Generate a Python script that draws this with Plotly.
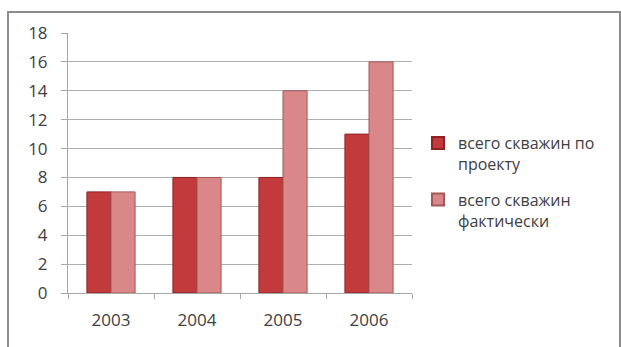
import plotly.graph_objects as go

years = ["2003", "2004", "2005", "2006"]
planned = [7, 8, 8, 11]
actual = [7, 8, 14, 16]
series_names = ["всего скважин по<br>проекту", "всего скважин<br>фактически"]
y_ticks = [0, 2, 4, 6, 8, 10, 12, 14, 16, 18]

fig = go.Figure()
fig.add_trace(go.Bar(
    x=years, y=planned, name=series_names[0], legendgroup="plan",
    marker=dict(color="#C23A3B", line=dict(color="#8E2223", width=1)),
))
fig.add_trace(go.Bar(
    x=years, y=actual, name=series_names[1], legendgroup="fact",
    marker=dict(color="#D98789", line=dict(color="#A4585A", width=1)),
))

W, H = 621, 347
ml, mr, mt, mb = 68, 209, 33, 54
pw, ph = W - ml - mr, H - mt - mb

# outer chart frame (top-left corner visible, the rest runs off the page)
fig.add_shape(
    type="rect", xref="paper", yref="paper",
    x0=(8 - ml) / pw, x1=(620 - ml) / pw,
    y0=(H - 360 - mb) / ph, y1=(H - 12 - mb) / ph,
    line=dict(color="#8C8C8C", width=2), fillcolor="rgba(0,0,0,0)", layer="below",
)

fig.update_layout(
    width=W, height=H,
    margin=dict(l=ml, r=mr, t=mt, b=mb),
    paper_bgcolor="white", plot_bgcolor="white",
    barmode="group", bargap=0.44, bargroupgap=0.0,
    font=dict(family="Open Sans, sans-serif", size=17, color="#404040"),
    showlegend=True,
    legend=dict(
        x=(418 - ml) / pw, y=(293 - 182) / ph, xanchor="left", yanchor="middle",
        font=dict(size=16, color="#404040"),
        valign="top", itemsizing="constant", tracegroupgap=12,
        bgcolor="rgba(0,0,0,0)",
    ),
    xaxis=dict(
        showline=True, linecolor="#A6A6A6", linewidth=1,
        ticks="outside", ticklen=5, tickcolor="#A6A6A6", tickson="boundaries",
        showgrid=False, tickfont=dict(size=17), ticklabelstandoff=12,
    ),
    yaxis=dict(
        range=[0, 18], tickvals=y_ticks,
        showline=True, linecolor="#A6A6A6", linewidth=1,
        ticks="outside", ticklen=6, tickcolor="#A6A6A6",
        showgrid=True, gridcolor="#AFAFAF", gridwidth=1,
        zeroline=False, tickfont=dict(size=17), ticklabelstandoff=10,
    ),
)

fig.write_html("out.html")
